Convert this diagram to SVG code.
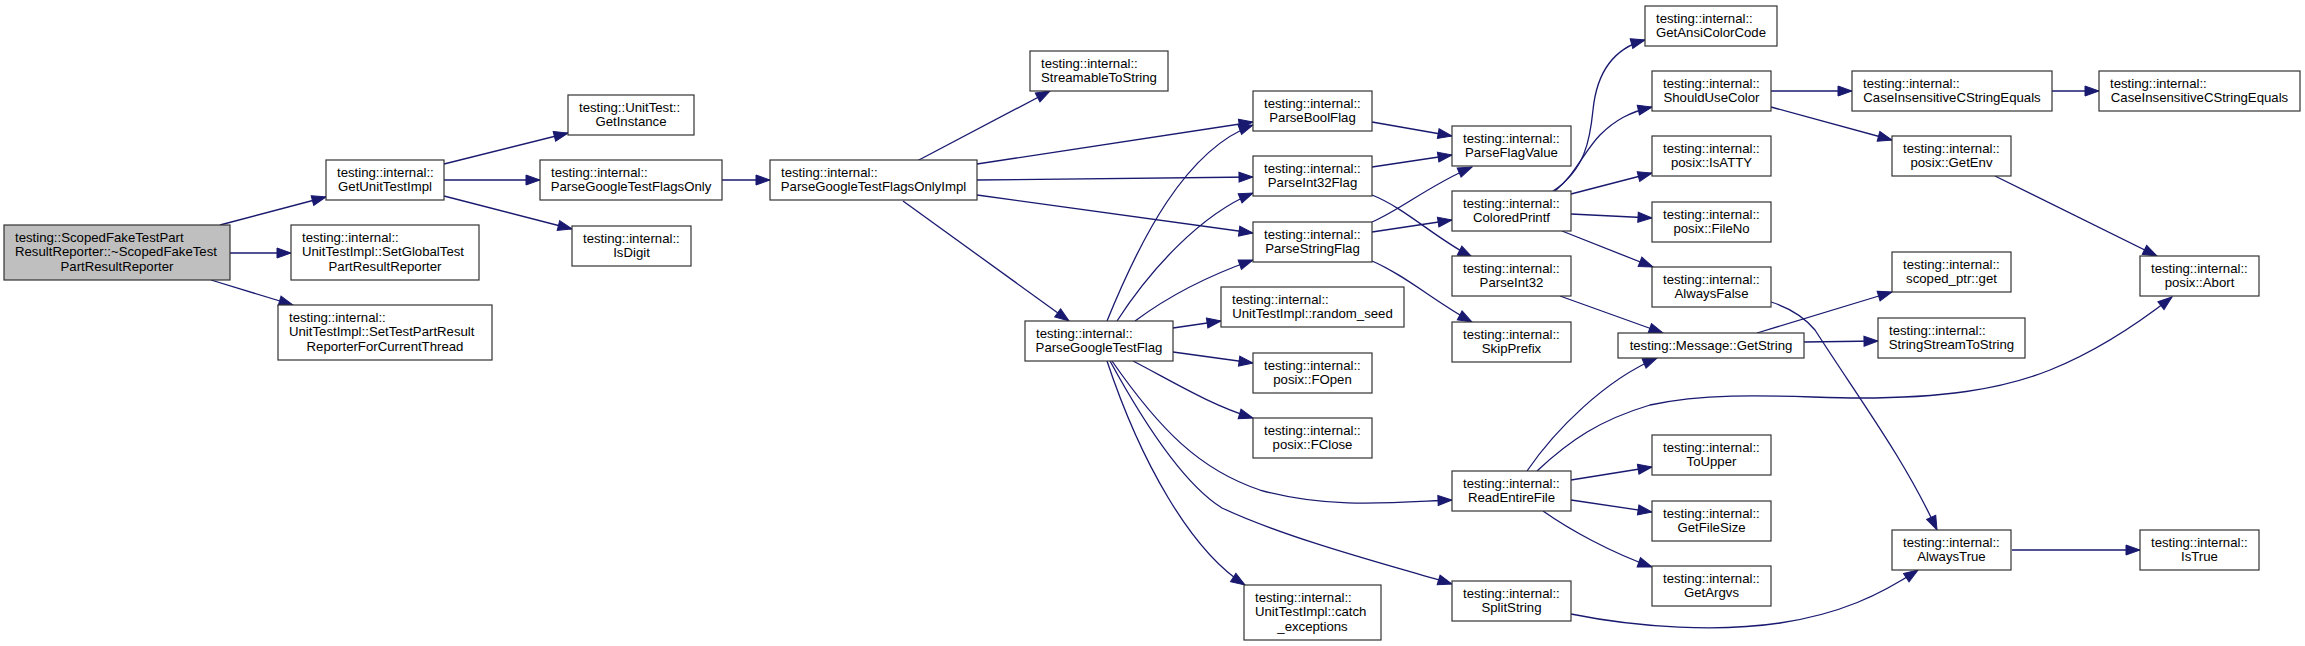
<svg xmlns="http://www.w3.org/2000/svg" width="2305" height="646" viewBox="0 0 2305 646">
<style>
rect{fill:#fff;stroke:#333;stroke-width:1.2}
.root rect{fill:#bfbfbf}
text{font-family:"Liberation Sans",Arial,Helvetica,sans-serif;font-size:13.2px;fill:#000}
.m{text-anchor:middle}
#edges path{fill:none;stroke:#191970;stroke-width:1.3;marker-end:url(#a)}
</style>
<defs>
<marker id="a" markerUnits="userSpaceOnUse" markerWidth="16" markerHeight="12" refX="14" refY="5" orient="auto" overflow="visible"><path d="M0,0 L14,5 L0,10 z" fill="#191970" stroke="#191970" stroke-width="1"/></marker>
</defs>
<rect x="0" y="0" width="2305" height="646" style="fill:#fff;stroke:none"/>
<g id="edges">
<path d="M220,225 L326,197"/>
<path d="M230,253 L291,253"/>
<path d="M211,280 L293,305"/>
<path d="M444,164 L568,133"/>
<path d="M444,180 L540,180"/>
<path d="M444,196 L572,229"/>
<path d="M722,180 L770,180"/>
<path d="M917,161 L1050,91"/>
<path d="M977,164 L1253,122"/>
<path d="M977,180 L1253,177"/>
<path d="M977,195 L1253,233"/>
<path d="M903,201 L1069,321"/>
<path d="M1107,321 C1140,240 1185,150 1253,125"/>
<path d="M1117,321 C1150,270 1200,215 1253,193"/>
<path d="M1135,321 C1170,295 1210,275 1253,260"/>
<path d="M1173,328 L1221,321"/>
<path d="M1173,352 L1253,363"/>
<path d="M1133,361 C1170,380 1210,405 1253,418"/>
<path d="M1112,361 C1160,430 1200,470 1260,490 C1330,510 1400,502 1452,500"/>
<path d="M1110,361 C1145,425 1185,485 1222,508 C1290,540 1400,568 1452,584"/>
<path d="M1107,361 C1140,460 1190,550 1245,585"/>
<path d="M1372,122 L1452,136"/>
<path d="M1372,167 L1452,155"/>
<path d="M1372,195 C1405,208 1435,238 1472,257"/>
<path d="M1372,222 C1400,210 1430,185 1472,167"/>
<path d="M1372,232 L1452,220"/>
<path d="M1372,261 C1405,275 1435,302 1472,322"/>
<path d="M1553,191 C1585,170 1590,140 1593,110 C1597,70 1615,48 1645,40"/>
<path d="M1555,191 C1575,175 1585,150 1600,135 C1615,120 1630,112 1652,107"/>
<path d="M1571,194 L1652,173"/>
<path d="M1571,214 L1652,218"/>
<path d="M1562,231 L1653,267"/>
<path d="M1560,296 L1663,333"/>
<path d="M1527,471 C1555,430 1605,380 1657,358"/>
<path d="M1537,471 C1570,440 1600,420 1650,405 C1720,390 1800,398 1860,398 C1940,398 2000,390 2050,370 C2100,350 2140,322 2172,297"/>
<path d="M1571,480 L1652,467"/>
<path d="M1571,500 L1652,512"/>
<path d="M1543,511 C1570,530 1610,552 1652,567"/>
<path d="M1571,614 C1640,628 1720,632 1780,623 C1840,614 1880,595 1918,570"/>
<path d="M1771,91 L1852,91"/>
<path d="M1771,107 L1892,140"/>
<path d="M2052,91 L2099,91"/>
<path d="M1995,176 L2157,256"/>
<path d="M1771,302 C1790,308 1805,318 1815,330 C1860,400 1905,460 1937,530"/>
<path d="M1757,333 L1892,292"/>
<path d="M1804,342 L1878,341"/>
<path d="M2012,550 L2140,550"/>
</g>
<g id="n_root" class="root"><rect x="4" y="225" width="226" height="55"/><text x="15" y="241.5">testing::ScopedFakeTestPart</text><text x="15" y="256">ResultReporter::~ScopedFakeTest</text><text class="m" x="117" y="270.5">PartResultReporter</text></g>
<g id="n_getunittestimpl"><rect x="326" y="160" width="118" height="40"/><text x="337" y="176.5">testing::internal::</text><text class="m" x="385" y="190.5">GetUnitTestImpl</text></g>
<g id="n_setglobal"><rect x="291" y="225" width="188" height="55"/><text x="302" y="241.5">testing::internal::</text><text x="302" y="256">UnitTestImpl::SetGlobalTest</text><text class="m" x="385" y="270.5">PartResultReporter</text></g>
<g id="n_settestpart"><rect x="278" y="305" width="214" height="55"/><text x="289" y="321.5">testing::internal::</text><text x="289" y="336">UnitTestImpl::SetTestPartResult</text><text class="m" x="385" y="350.5">ReporterForCurrentThread</text></g>
<g id="n_getinstance"><rect x="568" y="95" width="126" height="40"/><text x="579" y="111.5">testing::UnitTest::</text><text class="m" x="631" y="125.5">GetInstance</text></g>
<g id="n_flagsonly"><rect x="540" y="160" width="182" height="40"/><text x="551" y="176.5">testing::internal::</text><text class="m" x="631" y="190.5">ParseGoogleTestFlagsOnly</text></g>
<g id="n_isdigit"><rect x="572" y="226" width="119" height="40"/><text x="583" y="242.5">testing::internal::</text><text class="m" x="631.5" y="256.5">IsDigit</text></g>
<g id="n_flagsonlyimpl"><rect x="770" y="160" width="207" height="40"/><text x="781" y="176.5">testing::internal::</text><text class="m" x="873.5" y="190.5">ParseGoogleTestFlagsOnlyImpl</text></g>
<g id="n_streamable"><rect x="1030" y="51" width="138" height="40"/><text x="1041" y="67.5">testing::internal::</text><text class="m" x="1099" y="81.5">StreamableToString</text></g>
<g id="n_pgtf"><rect x="1025" y="321" width="148" height="40"/><text x="1036" y="337.5">testing::internal::</text><text class="m" x="1099" y="351.5">ParseGoogleTestFlag</text></g>
<g id="n_parseboolflag"><rect x="1253" y="91" width="119" height="40"/><text x="1264" y="107.5">testing::internal::</text><text class="m" x="1312.5" y="121.5">ParseBoolFlag</text></g>
<g id="n_parseint32flag"><rect x="1253" y="156" width="119" height="40"/><text x="1264" y="172.5">testing::internal::</text><text class="m" x="1312.5" y="186.5">ParseInt32Flag</text></g>
<g id="n_parsestringflag"><rect x="1253" y="222" width="119" height="40"/><text x="1264" y="238.5">testing::internal::</text><text class="m" x="1312.5" y="252.5">ParseStringFlag</text></g>
<g id="n_randomseed"><rect x="1221" y="287" width="183" height="40"/><text x="1232" y="303.5">testing::internal::</text><text class="m" x="1312.5" y="317.5">UnitTestImpl::random_seed</text></g>
<g id="n_fopen"><rect x="1253" y="353" width="119" height="40"/><text x="1264" y="369.5">testing::internal::</text><text class="m" x="1312.5" y="383.5">posix::FOpen</text></g>
<g id="n_fclose"><rect x="1253" y="418" width="119" height="40"/><text x="1264" y="434.5">testing::internal::</text><text class="m" x="1312.5" y="448.5">posix::FClose</text></g>
<g id="n_catch"><rect x="1244" y="585" width="137" height="55"/><text x="1255" y="601.5">testing::internal::</text><text x="1255" y="616">UnitTestImpl::catch</text><text class="m" x="1312.5" y="630.5">_exceptions</text></g>
<g id="n_parseflagvalue"><rect x="1452" y="126" width="119" height="40"/><text x="1463" y="142.5">testing::internal::</text><text class="m" x="1511.5" y="156.5">ParseFlagValue</text></g>
<g id="n_coloredprintf"><rect x="1452" y="191" width="119" height="40"/><text x="1463" y="207.5">testing::internal::</text><text class="m" x="1511.5" y="221.5">ColoredPrintf</text></g>
<g id="n_parseint32"><rect x="1452" y="256" width="119" height="40"/><text x="1463" y="272.5">testing::internal::</text><text class="m" x="1511.5" y="286.5">ParseInt32</text></g>
<g id="n_skipprefix"><rect x="1452" y="322" width="119" height="40"/><text x="1463" y="338.5">testing::internal::</text><text class="m" x="1511.5" y="352.5">SkipPrefix</text></g>
<g id="n_readentirefile"><rect x="1452" y="471" width="119" height="40"/><text x="1463" y="487.5">testing::internal::</text><text class="m" x="1511.5" y="501.5">ReadEntireFile</text></g>
<g id="n_splitstring"><rect x="1452" y="581" width="119" height="40"/><text x="1463" y="597.5">testing::internal::</text><text class="m" x="1511.5" y="611.5">SplitString</text></g>
<g id="n_getansicolorcode"><rect x="1645" y="6" width="132" height="40"/><text x="1656" y="22.5">testing::internal::</text><text class="m" x="1711" y="36.5">GetAnsiColorCode</text></g>
<g id="n_shouldusecolor"><rect x="1652" y="71" width="119" height="40"/><text x="1663" y="87.5">testing::internal::</text><text class="m" x="1711.5" y="101.5">ShouldUseColor</text></g>
<g id="n_isatty"><rect x="1652" y="136" width="119" height="40"/><text x="1663" y="152.5">testing::internal::</text><text class="m" x="1711.5" y="166.5">posix::IsATTY</text></g>
<g id="n_fileno"><rect x="1652" y="202" width="119" height="40"/><text x="1663" y="218.5">testing::internal::</text><text class="m" x="1711.5" y="232.5">posix::FileNo</text></g>
<g id="n_alwaysfalse"><rect x="1652" y="267" width="119" height="40"/><text x="1663" y="283.5">testing::internal::</text><text class="m" x="1711.5" y="297.5">AlwaysFalse</text></g>
<g id="n_getstring"><rect x="1618" y="333" width="186" height="25"/><text class="m" x="1711" y="350">testing::Message::GetString</text></g>
<g id="n_toupper"><rect x="1652" y="435" width="119" height="40"/><text x="1663" y="451.5">testing::internal::</text><text class="m" x="1711.5" y="465.5">ToUpper</text></g>
<g id="n_getfilesize"><rect x="1652" y="501" width="119" height="40"/><text x="1663" y="517.5">testing::internal::</text><text class="m" x="1711.5" y="531.5">GetFileSize</text></g>
<g id="n_getargvs"><rect x="1652" y="566" width="119" height="40"/><text x="1663" y="582.5">testing::internal::</text><text class="m" x="1711.5" y="596.5">GetArgvs</text></g>
<g id="n_ci1"><rect x="1852" y="71" width="200" height="40"/><text x="1863" y="87.5">testing::internal::</text><text class="m" x="1952" y="101.5">CaseInsensitiveCStringEquals</text></g>
<g id="n_ci2"><rect x="2099" y="71" width="201" height="40"/><text x="2110" y="87.5">testing::internal::</text><text class="m" x="2199.5" y="101.5">CaseInsensitiveCStringEquals</text></g>
<g id="n_getenv"><rect x="1892" y="136" width="119" height="40"/><text x="1903" y="152.5">testing::internal::</text><text class="m" x="1951.5" y="166.5">posix::GetEnv</text></g>
<g id="n_scopedptrget"><rect x="1892" y="252" width="119" height="40"/><text x="1903" y="268.5">testing::internal::</text><text class="m" x="1951.5" y="282.5">scoped_ptr::get</text></g>
<g id="n_stringstream"><rect x="1878" y="318" width="147" height="40"/><text x="1889" y="334.5">testing::internal::</text><text class="m" x="1951.5" y="348.5">StringStreamToString</text></g>
<g id="n_alwaystrue"><rect x="1892" y="530" width="119" height="40"/><text x="1903" y="546.5">testing::internal::</text><text class="m" x="1951.5" y="560.5">AlwaysTrue</text></g>
<g id="n_abort"><rect x="2140" y="256" width="119" height="40"/><text x="2151" y="272.5">testing::internal::</text><text class="m" x="2199.5" y="286.5">posix::Abort</text></g>
<g id="n_istrue"><rect x="2140" y="530" width="119" height="40"/><text x="2151" y="546.5">testing::internal::</text><text class="m" x="2199.5" y="560.5">IsTrue</text></g>
</svg>
